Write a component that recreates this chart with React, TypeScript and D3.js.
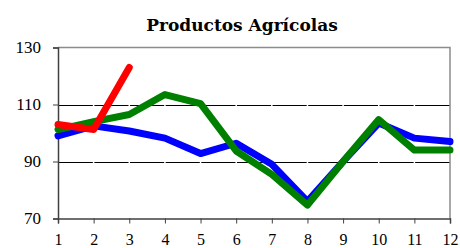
import React, { useEffect, useRef } from "react";
import * as d3 from "d3";

const months = [1, 2, 3, 4, 5, 6, 7, 8, 9, 10, 11, 12];
const blueValues = [99, 102.5, 100.7, 98.2, 92.8, 96.4, 89, 76, 90, 103.5, 98.2, 97];
const greenValues = [101.2, 104, 106.5, 113.5, 110.3, 93.7, 85.5, 74.7, 90, 104.7, 94, 94];
const redValues = [103, 101.2, 123];
const yTicks = [70, 90, 110, 130];
const title = "Productos Agrícolas";

const App = () => {
  const ref = useRef<SVGSVGElement>(null);

  useEffect(() => {
    const svg = d3.select(ref.current);
    svg.selectAll("*").remove();

    const width = 460;
    const height = 248;
    const left = 58, right = 450, top = 47.5, bottom = 218.5;
    const font = "Georgia, 'Liberation Serif', serif";

    const x = d3.scaleLinear().domain([1, 12]).range([left, right]);
    const y = d3.scaleLinear().domain([70, 130]).range([bottom, top]);

    svg.attr("width", width).attr("height", height);

    svg.append("rect").attr("width", width).attr("height", height).attr("fill", "#fff");

    // title
    svg
      .append("text")
      .attr("x", 242)
      .attr("y", 31)
      .attr("text-anchor", "middle")
      .attr("font-family", "Georgia, 'DejaVu Serif', serif")
      .attr("font-weight", "bold")
      .attr("font-size", 17)
      .text(title);

    // gridlines
    svg
      .append("g")
      .selectAll("line")
      .data(yTicks.filter((t) => t !== 70 && t !== 130))
      .enter()
      .append("line")
      .attr("x1", left)
      .attr("x2", right)
      .attr("y1", (d) => Math.round(y(d)) + 0.5)
      .attr("y2", (d) => Math.round(y(d)) + 0.5)
      .attr("stroke", "#000")
      .attr("stroke-width", 1);

    // white breaks in the gridlines
    svg
      .append("g")
      .selectAll("line")
      .data(months.slice(1, -1))
      .enter()
      .append("line")
      .attr("x1", (d) => x(d))
      .attr("x2", (d) => x(d))
      .attr("y1", top + 2)
      .attr("y2", bottom - 2)
      .attr("stroke", "#fff")
      .attr("stroke-width", 1.5);

    // frame: top and right in grey
    svg
      .append("path")
      .attr("d", `M${left},${top}H${right}V${bottom}`)
      .attr("fill", "none")
      .attr("stroke", "#8c8c8c")
      .attr("stroke-width", 1.5);

    // axes
    const xAxis = svg
      .append("g")
      .attr("transform", `translate(0,${bottom})`)
      .call(d3.axisBottom(x).tickValues(months).tickFormat(d3.format("d")).tickSize(5).tickPadding(10));
    xAxis.select(".domain").attr("stroke", "#404040").attr("stroke-width", 1.5);
    xAxis.selectAll(".tick line").attr("stroke", "#404040");
    xAxis.selectAll("text").attr("font-family", font).attr("font-size", 16).attr("fill", "#000");

    const yAxis = svg
      .append("g")
      .attr("transform", `translate(${left},0)`)
      .call(d3.axisLeft(y).tickValues(yTicks).tickSize(5).tickPadding(12));
    yAxis.select(".domain").attr("stroke", "#404040").attr("stroke-width", 1.5);
    yAxis.selectAll(".tick line").attr("stroke", "#404040");
    yAxis.selectAll("text").attr("font-family", font).attr("font-size", 17).attr("fill", "#000");

    const line = d3
      .line<number>()
      .x((d, i) => x(months[i]))
      .y((d) => y(d));

    const series = [
      { values: blueValues, color: "#0000ff" },
      { values: greenValues, color: "#008000" },
      { values: redValues, color: "#ff0000" },
    ];

    svg
      .append("g")
      .selectAll("path")
      .data(series)
      .enter()
      .append("path")
      .attr("d", (d) => line(d.values))
      .attr("fill", "none")
      .attr("stroke", (d) => d.color)
      .attr("stroke-width", 7)
      .attr("stroke-linejoin", "round")
      .attr("stroke-linecap", "round");
  }, []);

  return <svg ref={ref} style={{ position: "absolute", left: 0, top: 0 }}></svg>;
};

export default App;
